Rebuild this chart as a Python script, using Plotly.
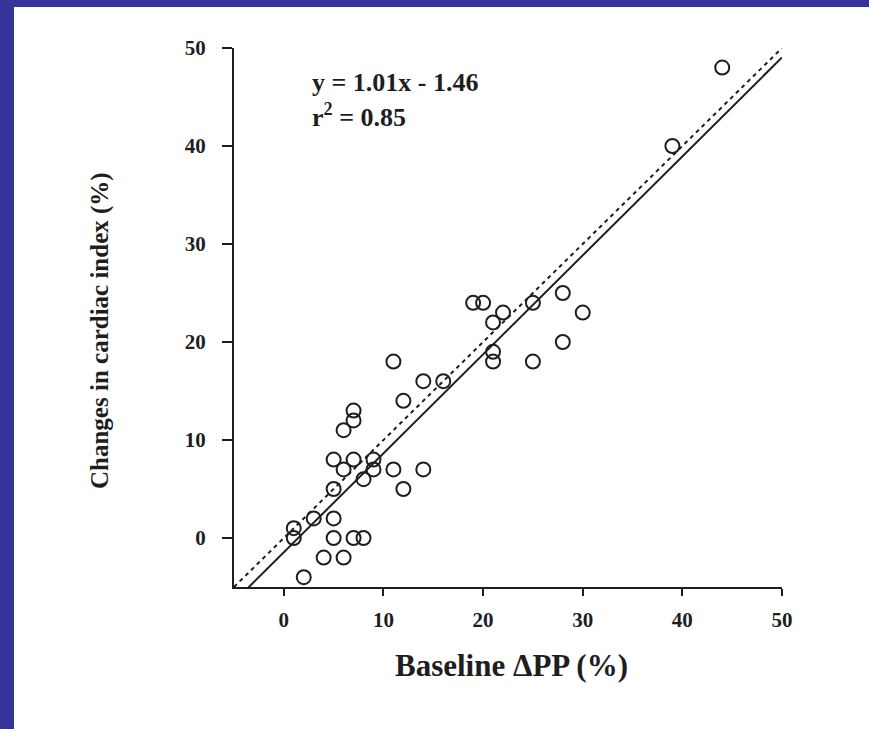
import plotly.graph_objects as go

# baseline delta PP (%) and change in cardiac index (%) per patient
baseline_dpp = [44, 39, 28, 30, 28, 25, 25, 19, 20, 22, 21, 21, 21,
                16, 14, 11, 12, 14, 11, 12, 7, 7, 6, 5, 7, 6, 9, 9, 8,
                5, 5, 3, 1, 1, 5, 7, 8, 4, 6, 2]
ci_change = [48, 40, 25, 23, 20, 24, 18, 24, 24, 23, 22, 19, 18,
             16, 16, 18, 14, 7, 7, 5, 13, 12, 11, 8, 8, 7, 8, 7, 6,
             5, 2, 2, 1, 0, 0, 0, 0, -2, -2, -4]

# regression y = 1.01x - 1.46 and identity line
slope = 1.01
intercept = -1.46
line_x = [-5, 50]
fit_y = [slope * v + intercept for v in line_x]
ident_y = line_x

ticks = [0, 10, 20, 30, 40, 50]
serif = "Liberation Serif"
ink = "#1e1e1e"

fig = go.Figure()
fig.add_trace(go.Scatter(x=line_x, y=ident_y, mode="lines",
                         line=dict(color=ink, width=2, dash="4px,4px")))
fig.add_trace(go.Scatter(x=line_x, y=fit_y, mode="lines",
                         line=dict(color=ink, width=2)))
fig.add_trace(go.Scatter(x=baseline_dpp, y=ci_change, mode="markers",
                         marker=dict(size=14, color="rgba(0,0,0,0)",
                                     line=dict(color=ink, width=2))))

axis_style = dict(range=[-5, 50], tickvals=ticks, showgrid=False,
                  zeroline=False, showline=True, linecolor=ink,
                  linewidth=2, ticks="outside", tickwidth=2,
                  tickcolor=ink,
                  tickfont=dict(family=serif, size=21, color=ink,
                                weight="bold"))
fig.update_xaxes(**axis_style, ticklen=7, ticklabelstandoff=6)
fig.update_yaxes(**axis_style, ticklen=10, ticklabelstandoff=12)

fig.update_layout(
    width=869, height=729,
    margin=dict(l=234, r=87, t=48, b=142),
    paper_bgcolor="white",
    plot_bgcolor="white",
    showlegend=False,
    font=dict(family=serif, color=ink),
)

# blue frame on the left and top edges
frame = "#34349a"
fig.add_shape(type="rect", xref="paper", yref="paper",
              x0=-234 / 548, x1=(14 - 234) / 548,
              y0=-142 / 539, y1=587 / 539,
              fillcolor=frame, line_width=0, layer="below")
fig.add_shape(type="rect", xref="paper", yref="paper",
              x0=-234 / 548, x1=(869 - 234) / 548,
              y0=(587 - 7) / 539, y1=587 / 539,
              fillcolor=frame, line_width=0, layer="below")

fig.add_annotation(x=(310 - 234) / 548, y=(587 - 82) / 539,
                   xref="paper", yref="paper",
                   xanchor="left", yanchor="middle", showarrow=False,
                   text="<b>y = 1.01x - 1.46</b>",
                   font=dict(family=serif, size=26, color=ink))
fig.add_annotation(x=(310 - 234) / 548, y=(587 - 116) / 539,
                   xref="paper", yref="paper",
                   xanchor="left", yanchor="middle", showarrow=False,
                   text="<b>r<sup>2</sup> = 0.85</b>",
                   font=dict(family=serif, size=26, color=ink))
fig.add_annotation(x=(511 - 234) / 548, y=(587 - 665) / 539,
                   xref="paper", yref="paper",
                   xanchor="center", yanchor="middle", showarrow=False,
                   text="<b>Baseline ΔPP (%)</b>",
                   font=dict(family=serif, size=31, color=ink))
fig.add_annotation(x=(100 - 234) / 548, y=(587 - 331) / 539,
                   xref="paper", yref="paper",
                   xanchor="center", yanchor="middle", showarrow=False,
                   textangle=-90,
                   text="<b>Changes in cardiac index (%)</b>",
                   font=dict(family=serif, size=25, color=ink))

fig.write_html("out.html", config={"displayModeBar": False},
               post_script="document.body.style.margin='0';")
